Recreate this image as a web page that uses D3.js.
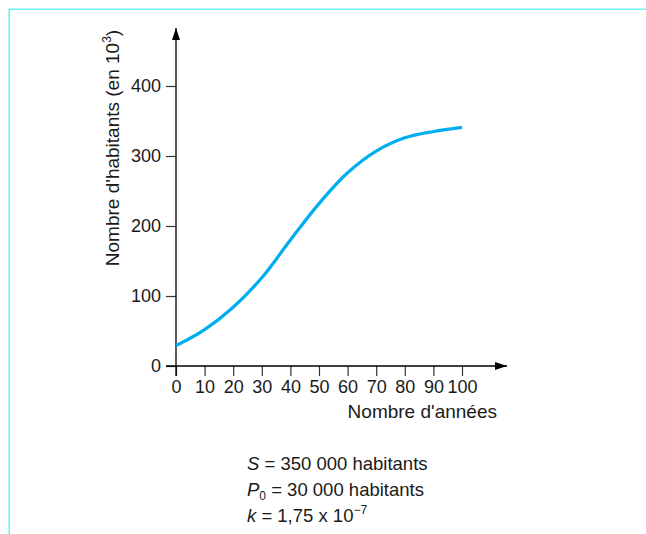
<!DOCTYPE html>
<html>
<head>
<meta charset="utf-8">
<script src="https://cdn.jsdelivr.net/npm/d3@7"></script>
<style>
  body { margin: 0; background: #fff; }
  svg text { font-family: "Liberation Sans", Arial, sans-serif; fill: #1a1a1a; }
</style>
</head>
<body>
<div id="chart"></div>
<script>
// values (population in thousands)
const years = [0, 10, 20, 30, 40, 50, 60, 70, 80, 90, 100];
const population = [29, 52, 84, 126, 180, 232, 276, 307, 326, 335, 341];
const xTicks = [0, 10, 20, 30, 40, 50, 60, 70, 80, 90, 100];
const yTicks = [0, 100, 200, 300, 400];

const width = 646, height = 534;
const svg = d3.select('#chart').append('svg')
  .attr('width', width)
  .attr('height', height);

// cyan frame (top and left edges)
svg.append('path')
  .attr('d', `M9.2,${height} V9.2 H${width}`)
  .attr('fill', 'none')
  .attr('stroke', '#66f5ee')
  .attr('stroke-width', 1.6);

const x = d3.scaleLinear().domain([0, 100]).range([176, 462]);
const y = d3.scaleLinear().domain([0, 400]).range([366, 86]);

// arrow head
const defs = svg.append('defs');
defs.append('marker')
  .attr('id', 'arrow')
  .attr('viewBox', '0 0 12 8')
  .attr('refX', 12).attr('refY', 4)
  .attr('markerWidth', 12).attr('markerHeight', 8)
  .attr('markerUnits', 'userSpaceOnUse')
  .attr('orient', 'auto')
  .append('path')
  .attr('d', 'M0,0 L12,4 L0,8 Z')
  .attr('fill', '#000');

// x axis
const xAxis = svg.append('g')
  .attr('transform', `translate(0,${y(0)})`)
  .call(d3.axisBottom(x).tickValues(xTicks).tickSize(10).tickPadding(4));
xAxis.select('.domain').remove();
xAxis.selectAll('.tick line').attr('stroke', '#333').attr('stroke-width', 1.2);
xAxis.selectAll('.tick text').attr('font-size', 18).style('fill', '#1a1a1a');

// y axis
const yAxis = svg.append('g')
  .attr('transform', `translate(${x(0)},0)`)
  .call(d3.axisLeft(y).tickValues(yTicks).tickSize(10).tickPadding(5));
yAxis.select('.domain').remove();
yAxis.selectAll('.tick line').attr('stroke', '#333').attr('stroke-width', 1.2);
yAxis.selectAll('.tick text').attr('font-size', 18).style('fill', '#1a1a1a');

// axis lines with arrows
svg.append('line')
  .attr('x1', x(0) - 10).attr('y1', y(0))
  .attr('x2', 507).attr('y2', y(0))
  .attr('stroke', '#000').attr('stroke-width', 1.3)
  .attr('marker-end', 'url(#arrow)');
svg.append('line')
  .attr('x1', x(0)).attr('y1', y(0) + 10)
  .attr('x2', x(0)).attr('y2', 28)
  .attr('stroke', '#000').attr('stroke-width', 1.3)
  .attr('marker-end', 'url(#arrow)');

// curve
const line = d3.line()
  .x((d, i) => x(years[i]))
  .y(d => y(d))
  .curve(d3.curveCatmullRom.alpha(0.5));
svg.append('path')
  .datum(population)
  .attr('d', line)
  .attr('fill', 'none')
  .attr('stroke', '#00aeef')
  .attr('stroke-width', 3.2);

// axis titles
svg.append('text')
  .attr('x', 497).attr('y', 418)
  .attr('text-anchor', 'end')
  .attr('font-size', 19)
  .text("Nombre d'années");

const yLab = svg.append('text')
  .attr('transform', 'translate(119,148) rotate(-90)')
  .attr('text-anchor', 'middle')
  .attr('font-size', 19);
yLab.append('tspan').text("Nombre d'habitants (en 10");
yLab.append('tspan').attr('font-size', 12).attr('dy', -8).text('3');
yLab.append('tspan').attr('dy', 8).text(')');

// notes below
const notes = svg.append('g').attr('font-size', 18.5);
const t1 = notes.append('text').attr('x', 247).attr('y', 470);
t1.append('tspan').attr('font-style', 'italic').text('S');
t1.append('tspan').text(' = 350 000 habitants');

const t2 = notes.append('text').attr('x', 247).attr('y', 496);
t2.append('tspan').attr('font-style', 'italic').text('P');
t2.append('tspan').attr('font-size', 12).attr('dy', 4).text('0');
t2.append('tspan').attr('dy', -4).text(' = 30 000 habitants');

const t3 = notes.append('text').attr('x', 247).attr('y', 522);
t3.append('tspan').attr('font-style', 'italic').text('k');
t3.append('tspan').text(' = 1,75 x 10');
t3.append('tspan').attr('font-size', 12).attr('dy', -8).text('\u22127');
</script>
</body>
</html>
